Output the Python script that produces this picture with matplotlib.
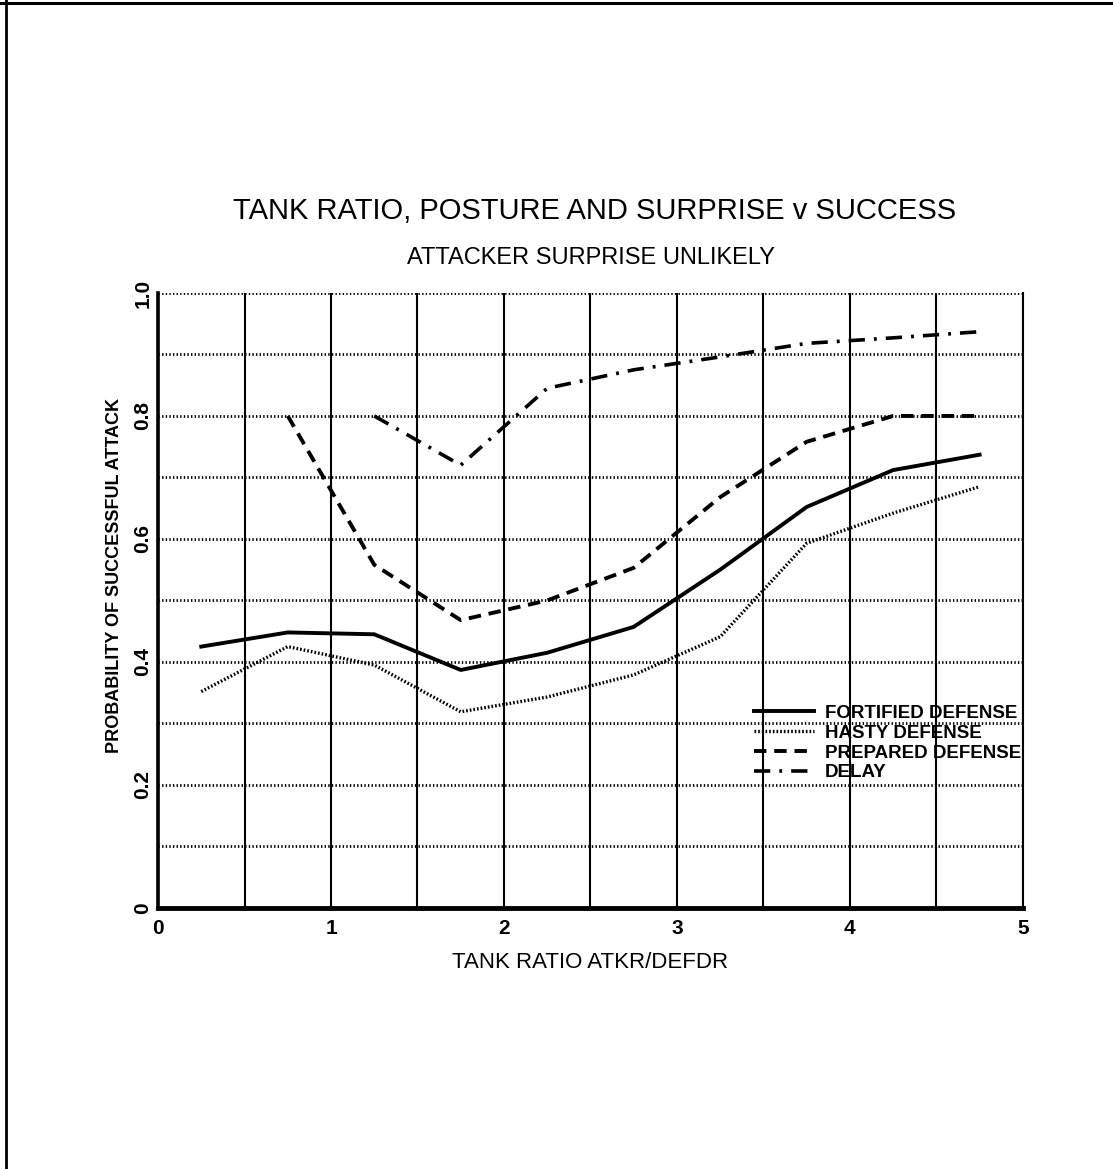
import matplotlib.pyplot as plt
from matplotlib.lines import Line2D
from matplotlib.ticker import MultipleLocator

# values
x_full = [0.25, 0.75, 1.25, 1.75, 2.25, 2.75, 3.25, 3.75, 4.25, 4.75]
fortified = [0.425, 0.448, 0.445, 0.387, 0.415, 0.457, 0.550, 0.652, 0.712, 0.737]
hasty = [0.352, 0.425, 0.395, 0.319, 0.343, 0.379, 0.441, 0.593, 0.642, 0.685]

x_prepared = [0.75, 1.25, 1.75, 2.25, 2.75, 3.25, 3.75, 4.25, 4.75]
prepared = [0.800, 0.558, 0.468, 0.500, 0.553, 0.668, 0.758, 0.800, 0.800]

x_delay = [1.25, 1.75, 2.25, 2.75, 3.25, 3.75, 4.25, 4.75]
delay = [0.800, 0.720, 0.845, 0.875, 0.896, 0.918, 0.927, 0.937]

x_ticks = [0, 1, 2, 3, 4, 5]
y_ticks = [0, 0.2, 0.4, 0.6, 0.8, 1.0]
y_tick_labels = ['0', '0.2', '0.4', '0.6', '0.8', '1.0']

plt.rcParams['font.family'] = ['Liberation Sans', 'DejaVu Sans']

fig = plt.figure(figsize=(11.13, 11.69), dpi=100)
ax = fig.add_axes([0.142, 0.2233, 0.777, 0.5261])

# lines
ax.plot(x_full, fortified, color='black', lw=2.8, label='FORTIFIED DEFENSE')
ax.plot(x_full, hasty, color='black', lw=2.4, linestyle=(0, (0.5, 0.6)), label='HASTY DEFENSE')
ax.plot(x_prepared, prepared, color='black', lw=2.8, linestyle=(0, (3.2, 2.0)), label='PREPARED DEFENSE')
ax.plot(x_delay, delay, color='black', lw=2.6, linestyle=(0, (4.5, 2.5, 0.8, 2.5)), label='DELAY')

ax.set_xlim(0, 5)
ax.set_ylim(0, 1)
ax.set_xticks(x_ticks)
ax.set_yticks(y_ticks)
ax.set_yticklabels(y_tick_labels, rotation=90, va='center')
ax.xaxis.set_minor_locator(MultipleLocator(0.5))
ax.yaxis.set_minor_locator(MultipleLocator(0.1))
ax.tick_params(which='both', length=0)
ax.tick_params(axis='x', pad=8, labelsize=15)
ax.tick_params(axis='y', pad=4, labelsize=15)
for lbl in ax.get_xticklabels() + ax.get_yticklabels():
    lbl.set_fontweight('bold')

# grid: solid verticals, dotted horizontals
ax.grid(which='both', axis='x', color='black', lw=1.5, linestyle='-')
ax.grid(which='both', axis='y', color='black', lw=2.0, linestyle=(0, (0.5, 0.8)))
ax.set_axisbelow(True)

ax.spines['top'].set_visible(False)
ax.spines['left'].set_linewidth(2.6)
ax.spines['bottom'].set_linewidth(3.5)
ax.spines['right'].set_linewidth(1.5)

ax.set_xlabel('TANK RATIO ATKR/DEFDR', fontsize=16, labelpad=10)
ax.set_ylabel('PROBABILITY OF SUCCESSFUL ATTACK', fontsize=13, fontweight='bold')
ax.yaxis.set_label_coords(-0.041, 0.54)

fig.text(0.534, 1 - 211 / 1169, 'TANK RATIO, POSTURE AND SURPRISE v SUCCESS',
         ha='center', va='center', fontsize=21)
fig.text(0.531, 1 - 258 / 1169, 'ATTACKER SURPRISE UNLIKELY',
         ha='center', va='center', fontsize=17)

leg = ax.legend(loc='upper left', bbox_to_anchor=(0.68, 0.343), frameon=False,
                fontsize=13.5, handlelength=3.2, handletextpad=0.6, labelspacing=0.15,
                borderaxespad=0)
for t in leg.get_texts():
    t.set_fontweight('bold')

# page border (top and left)
fig.add_artist(Line2D([0, 1], [1 - 3 / 1169, 1 - 3 / 1169], color='black', lw=2.2))
fig.add_artist(Line2D([6 / 1113, 6 / 1113], [0, 1], color='black', lw=2.0))

plt.savefig('out.png', dpi=100)
